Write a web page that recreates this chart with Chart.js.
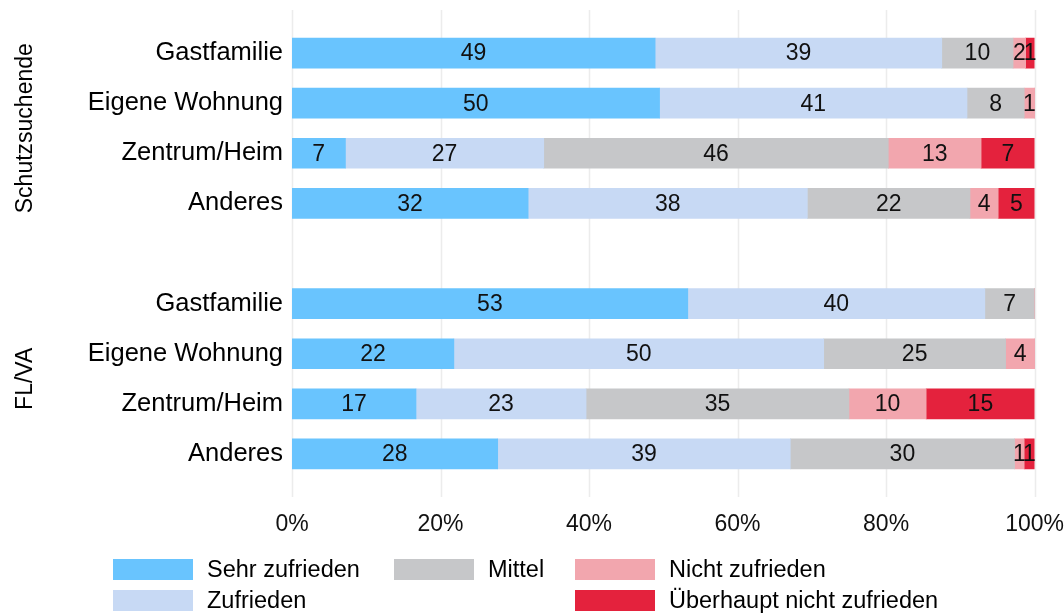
<!DOCTYPE html>
<html>
<head>
<meta charset="utf-8">
<script src="https://cdn.jsdelivr.net/npm/chart.js@4/dist/chart.umd.min.js"></script>
<style>
  body { margin: 0; background: #fff; font-family: "Liberation Sans", Arial, sans-serif; }
  #wrap { position: relative; width: 1064px; height: 614px; }
  #legend {
    position: absolute; left: 113px; top: 559px;
    display: grid; grid-auto-flow: column;
    grid-template-rows: 31px 31px;
    grid-template-columns: 281px 181px auto;
    font-size: 23.5px; color: #000;
  }
  .item { display: flex; align-items: center; height: 21px; }
  .sw { width: 80px; height: 21px; margin-right: 14px; }
</style>
</head>
<body>
<div id="wrap">
  <canvas id="chart" width="1064" height="614"></canvas>
  <div id="legend"></div>
</div>
<script>
// rows: Schutzsuchende (4), spacer, FL/VA (4)
const categories = ['Gastfamilie', 'Eigene Wohnung', 'Zentrum/Heim', 'Anderes', '',
                    'Gastfamilie', 'Eigene Wohnung', 'Zentrum/Heim', 'Anderes'];
const groups = ['Schutzsuchende', 'FL/VA'];
const seriesNames = ['Sehr zufrieden', 'Zufrieden', 'Mittel', 'Nicht zufrieden', 'Überhaupt nicht zufrieden'];

const sehrZufrieden   = [48.9, 49.5,  7.2, 31.8, null, 53.3, 21.8, 16.7, 27.7];
const zufrieden       = [38.6, 41.4, 26.7, 37.6, null, 40.0, 49.8, 22.9, 39.4];
const mittel          = [ 9.6,  7.7, 46.4, 21.9, null,  6.7, 24.5, 35.4, 30.2];
const nichtZufrieden  = [ 1.7,  1.4, 12.5,  3.8, null,  0,    3.9, 10.4,  1.3];
const ueberhauptNicht = [ 1.2,  0,    7.2,  4.9, null,  0,    0,   14.6,  1.4];

const xTicks = [0, 20, 40, 60, 80, 100];

const colors = ['#69c4fe', '#c7d9f4', '#c6c7c9', '#f2a6ae', '#e4223d'];
const FONT = '"Liberation Sans", Arial, sans-serif';

const allSeries = [sehrZufrieden, zufrieden, mittel, nichtZufrieden, ueberhauptNicht];

// vertical grid lines reaching a bit past the plot area
const gridPlugin = {
  id: 'grid',
  beforeDatasetsDraw(chart) {
    const { ctx, chartArea, scales } = chart;
    ctx.save();
    ctx.strokeStyle = '#ececec';
    ctx.lineWidth = 1.5;
    xTicks.forEach(v => {
      const x = Math.round(scales.x.getPixelForValue(v)) + 0.5;
      ctx.beginPath();
      ctx.moveTo(x, chartArea.top - 18);
      ctx.lineTo(x, chartArea.bottom + 18);
      ctx.stroke();
    });
    ctx.restore();
  }
};

// rounded values in the middle of each segment
const labelPlugin = {
  id: 'segLabels',
  afterDatasetsDraw(chart) {
    const { ctx } = chart;
    ctx.save();
    ctx.font = '23px ' + FONT;
    ctx.fillStyle = '#111';
    ctx.textAlign = 'center';
    ctx.textBaseline = 'middle';
    chart.data.datasets.forEach((ds, i) => {
      chart.getDatasetMeta(i).data.forEach((bar, j) => {
        const v = ds.data[j];
        if (!v) return;
        const p = bar.getCenterPoint();
        ctx.fillText(Math.round(v), p.x, p.y + 1);
      });
    });
    ctx.restore();
  }
};

// rotated group titles on the left
const groupPlugin = {
  id: 'groupTitles',
  afterDraw(chart) {
    const { ctx, scales } = chart;
    ctx.save();
    ctx.font = '23px ' + FONT;
    ctx.fillStyle = '#000';
    ctx.textAlign = 'center';
    ctx.textBaseline = 'middle';
    groups.forEach((g, k) => {
      const first = k * 5, last = first + 3;
      const y = (scales.y.getPixelForValue(first) + scales.y.getPixelForValue(last)) / 2;
      ctx.translate(26, y);
      ctx.rotate(-Math.PI / 2);
      ctx.fillText(g, 0, 0);
      ctx.setTransform(1, 0, 0, 1, 0, 0);
    });
    ctx.restore();
  }
};

new Chart(document.getElementById('chart'), {
  type: 'bar',
  data: {
    labels: categories,
    datasets: seriesNames.map((name, i) => ({
      label: name,
      data: allSeries[i],
      backgroundColor: colors[i],
      borderWidth: 0,
      barThickness: 30
    }))
  },
  options: {
    indexAxis: 'y',
    responsive: false,
    animation: false,
    layout: { padding: { top: 28, bottom: 75, left: 0, right: 12 } },
    plugins: { legend: { display: false }, tooltip: { enabled: false } },
    scales: {
      x: {
        stacked: true,
        min: 0,
        max: 100,
        border: { display: false },
        grid: { display: false, tickLength: 32 },
        afterBuildTicks: s => { s.ticks = xTicks.map(v => ({ value: v })); },
        afterFit: s => { s.height = 60; },
        ticks: {
          padding: 0,
          color: '#111',
          font: { family: FONT, size: 23 },
          callback: v => v + '%',
          maxRotation: 0
        }
      },
      y: {
        stacked: true,
        border: { display: false },
        grid: { display: false, tickLength: 0 },
        afterFit: s => { s.width = 292; },
        ticks: {
          padding: 9,
          color: '#000',
          font: { family: FONT, size: 25.5 },
          autoSkip: false
        }
      }
    }
  },
  plugins: [gridPlugin, labelPlugin, groupPlugin]
});

// legend laid out column-wise like the original
const legendOrder = [0, 1, 2, -1, 3, 4];
const legend = document.getElementById('legend');
legendOrder.forEach(i => {
  const el = document.createElement('div');
  el.className = 'item';
  if (i >= 0) {
    el.innerHTML = '<span class="sw" style="background:' + colors[i] + '"></span>' + seriesNames[i];
  }
  legend.appendChild(el);
});
</script>
</body>
</html>
